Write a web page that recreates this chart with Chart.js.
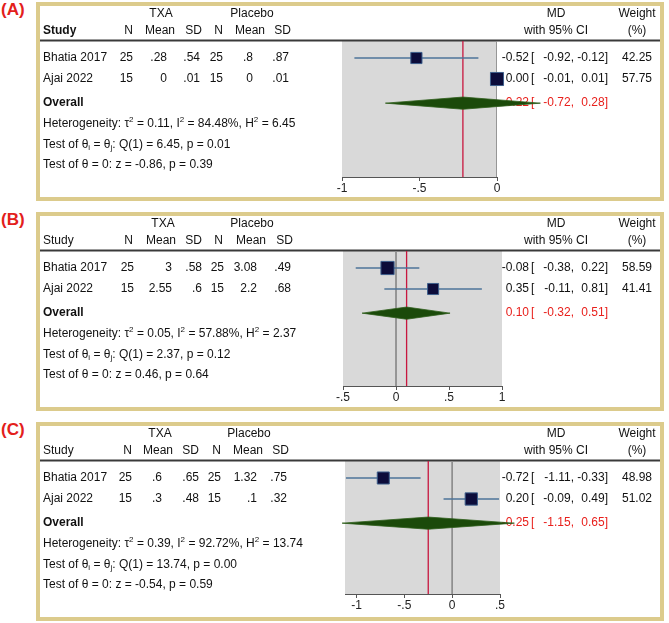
<!DOCTYPE html>
<html>
<head>
<meta charset="utf-8">
<script src="https://cdn.jsdelivr.net/npm/chart.js"></script>
<style>
  body { margin: 0; background: #fff; width: 669px; height: 623px; position: relative; overflow: hidden; }
  .panel { position: absolute; left: 36px; width: 628px; height: 199px; box-sizing: border-box; border: 4px solid #dccb8c; }
  .panel canvas { position: absolute; left: 0; top: 0; }
  .tag { position: absolute; left: 1px; font: bold 17px "Liberation Sans", Arial, sans-serif; color: #e3201b; line-height: 20px; }
</style>
</head>
<body>
<div class="tag" style="top:0px">(A)</div>
<div class="tag" style="top:210px">(B)</div>
<div class="tag" style="top:420px">(C)</div>
<div class="panel" style="top:2px"><canvas id="c0" width="620" height="191"></canvas></div>
<div class="panel" style="top:212px"><canvas id="c1" width="620" height="191"></canvas></div>
<div class="panel" style="top:422px"><canvas id="c2" width="620" height="191"></canvas></div>
<script>
// data, one entry per panel (A, B, C)
const studies = ['Bhatia 2017', 'Ajai 2022'];
const txaN = [[25, 15], [25, 15], [25, 15]];
const txaMean = [[0.28, 0], [3, 2.55], [0.6, 0.3]];
const txaSD = [[0.54, 0.01], [0.58, 0.6], [0.65, 0.48]];
const placeboN = [[25, 15], [25, 15], [25, 15]];
const placeboMean = [[0.8, 0], [3.08, 2.2], [1.32, 0.1]];
const placeboSD = [[0.87, 0.01], [0.49, 0.68], [0.75, 0.32]];
const md = [[-0.52, 0.00], [-0.08, 0.35], [-0.72, 0.20]];
const ciLow = [[-0.92, -0.01], [-0.38, -0.11], [-1.11, -0.09]];
const ciHigh = [[-0.12, 0.01], [0.22, 0.81], [-0.33, 0.49]];
const weights = [[42.25, 57.75], [58.59, 41.41], [48.98, 51.02]];
const overallMd = [-0.22, 0.10, -0.25];
const overallLow = [-0.72, -0.32, -1.15];
const overallHigh = [0.28, 0.51, 0.65];
const tau2 = [0.11, 0.05, 0.39];
const iSq = [84.48, 57.88, 92.72];
const hSq = [6.45, 2.37, 13.74];
const qStat = [6.45, 2.37, 13.74];
const qP = [0.01, 0.12, 0.00];
const zStat = [-0.86, 0.46, -0.54];
const zP = [0.39, 0.64, 0.59];
const axisMin = [-1, -0.5, -1.12];
const axisMax = [0, 1, 0.5];
const tickValues = [[-1, -0.5, 0], [-0.5, 0, 0.5, 1], [-1, -0.5, 0, 0.5]];
const tickLabels = [['-1', '-.5', '0'], ['-.5', '0', '.5', '1'], ['-1', '-.5', '0', '.5']];

// layout (page x coords, canvas starts at x=40)
const OX = 40;
const FONT = '"Liberation Sans", Arial, sans-serif';
const plotLeft = [342, 343, 345], plotRight = [497, 502, 500];
const plotBottom = [171, 170, 168]; // canvas y of axis line
const PLOT_TOP = 35, ROW_PX = 21;
const valRight = [[133, 167, 200, 223, 253, 289], [134, 172, 202, 224, 257, 291], [132, 162, 199, 221, 257, 287]];
const headRight = [[133, 175, 202, 223, 265, 291], [133, 176, 202, 223, 266, 293], [132, 173, 199, 221, 263, 289]];
const groupCenter = [[161, 252], [163, 252], [160, 249]];

const stataNum = v => String(v).replace(/^(-?)0\./, '$1.');

function font(size, bold) { return (bold ? 'bold ' : '') + size + 'px ' + FONT; }

function rich(ctx, x, y, parts) {
  parts.forEach(([t, k]) => {
    ctx.font = font(k ? 8 : 12, false);
    const dy = k === 'sup' ? -4.5 : k === 'sub' ? 3 : 0;
    ctx.fillText(t, x, y + dy);
    x += ctx.measureText(t).width;
  });
}

function ciText(ctx, y, est, lo, hi, color) {
  const L = x => x - OX;
  ctx.fillStyle = color;
  ctx.font = font(12, false);
  ctx.textAlign = 'right';
  ctx.fillText(est.toFixed(2), L(529), y);
  ctx.textAlign = 'left';
  ctx.fillText('[', L(531), y);
  ctx.textAlign = 'right';
  ctx.fillText(lo.toFixed(2) + ',', L(574), y);
  ctx.fillText(hi.toFixed(2) + ']', L(608), y);
}

const forestPlugin = {
  id: 'forest',
  beforeDraw(chart) {
    const {ctx, chartArea: a} = chart;
    ctx.save();
    ctx.fillStyle = '#d9d9d9';
    ctx.fillRect(a.left, a.top, a.right - a.left, a.bottom - a.top);
    ctx.fillStyle = '#3a3a3a';
    ctx.fillRect(0, a.top - 1.5, chart.width, 2);
    ctx.restore();
  },
  beforeDatasetsDraw(chart, args, opts) {
    const p = opts.panel, ctx = chart.ctx, ys = chart.scales.y;
    const L = x => x - OX;
    ctx.save();
    ctx.textBaseline = 'middle';
    ctx.fillStyle = '#111';
    ctx.font = font(12, false);
    ctx.textAlign = 'center';
    ctx.fillText('TXA', L(groupCenter[p][0]), 8);
    ctx.fillText('Placebo', L(groupCenter[p][1]), 8);
    ctx.fillText('MD', L(556), 8);
    ctx.fillText('Weight', L(637), 8);
    ctx.fillText('with 95% CI', L(556), 25);
    ctx.fillText('(%)', L(637), 25);
    ctx.textAlign = 'right';
    ['N', 'Mean', 'SD', 'N', 'Mean', 'SD'].forEach((h, i) => ctx.fillText(h, L(headRight[p][i]), 25));
    ctx.textAlign = 'left';
    ctx.font = font(12, p === 0);
    ctx.fillText('Study', L(43), 25);

    studies.forEach((s, i) => {
      const y = ys.getPixelForValue(i + 1);
      ctx.fillStyle = '#111';
      ctx.font = font(12, false);
      ctx.textAlign = 'left';
      ctx.fillText(s, L(43), y);
      ctx.textAlign = 'right';
      const cells = [txaN[p][i], txaMean[p][i], txaSD[p][i], placeboN[p][i], placeboMean[p][i], placeboSD[p][i]];
      cells.forEach((v, c) => ctx.fillText(stataNum(v), L(valRight[p][c]), y));
      ctx.fillText(weights[p][i].toFixed(2), L(652), y);
      ciText(ctx, y, md[p][i], ciLow[p][i], ciHigh[p][i], '#111');
    });

    const yo = ys.getPixelForValue(studies.length + 1.15);
    ctx.fillStyle = '#111';
    ctx.textAlign = 'left';
    ctx.font = font(12, true);
    ctx.fillText('Overall', L(43), yo);
    rich(ctx, L(43), 118, [['Heterogeneity: \u03c4'], ['2', 'sup'], [' = ' + tau2[p].toFixed(2) + ', I'], ['2', 'sup'],
      [' = ' + iSq[p].toFixed(2) + '%, H'], ['2', 'sup'], [' = ' + hSq[p].toFixed(2)]]);
    rich(ctx, L(43), 139, [['Test of \u03b8'], ['i', 'sub'], [' = \u03b8'], ['j', 'sub'],
      [': Q(1) = ' + qStat[p].toFixed(2) + ', p = ' + qP[p].toFixed(2)]]);
    rich(ctx, L(43), 159, [['Test of \u03b8 = 0: z = ' + zStat[p].toFixed(2) + ', p = ' + zP[p].toFixed(2)]]);
    ciText(ctx, yo, overallMd[p], overallLow[p], overallHigh[p], '#e8201c');
    ctx.restore();
  },
  afterDatasetsDraw(chart, args, opts) {
    // pooled estimate diamond, not clipped to the plot area
    const p = opts.panel, ctx = chart.ctx, xs = chart.scales.x, ys = chart.scales.y;
    const row = studies.length + 1.15, h = 0.29;
    ctx.save();
    ctx.beginPath();
    ctx.moveTo(xs.getPixelForValue(overallLow[p]), ys.getPixelForValue(row));
    ctx.lineTo(xs.getPixelForValue(overallMd[p]), ys.getPixelForValue(row - h));
    ctx.lineTo(xs.getPixelForValue(overallHigh[p]), ys.getPixelForValue(row));
    ctx.lineTo(xs.getPixelForValue(overallMd[p]), ys.getPixelForValue(row + h));
    ctx.closePath();
    ctx.fillStyle = '#1b4a0a';
    ctx.fill();
    ctx.strokeStyle = '#2f5e1c';
    ctx.lineWidth = 0.8;
    ctx.stroke();
    ctx.restore();
  }
};

function makePanel(p) {
  const yMin = 1 - 17 / ROW_PX;
  const yMax = yMin + (plotBottom[p] - PLOT_TOP) / ROW_PX;
  const datasets = [];
  datasets.push({
    data: [{x: 0, y: yMin}, {x: 0, y: yMax}],
    showLine: true, pointRadius: 0, borderColor: '#8c8c8c', borderWidth: 1, order: 6
  });
  datasets.push({
    data: [{x: overallMd[p], y: yMin}, {x: overallMd[p], y: yMax}],
    showLine: true, pointRadius: 0, borderColor: '#c8173f', borderWidth: 1.3, order: 5
  });
  studies.forEach((s, i) => {
    datasets.push({
      data: [{x: ciLow[p][i], y: i + 1}, {x: ciHigh[p][i], y: i + 1}],
      showLine: true, pointRadius: 0, borderColor: '#4d7399', borderWidth: 1.5, order: 3
    });
  });
  datasets.push({
    data: studies.map((s, i) => ({x: md[p][i], y: i + 1})),
    pointStyle: 'rect',
    pointRadius: weights[p].map(w => 1.72 * Math.sqrt(w) / 1.414),
    backgroundColor: '#0c0c3a', borderColor: '#3d5f8c', borderWidth: 1,
    clip: false, order: 1
  });

  return new Chart(document.getElementById('c' + p), {
    type: 'scatter',
    data: { datasets },
    options: {
      responsive: false,
      animation: false,
      events: [],
      layout: { padding: { left: plotLeft[p] - OX, right: 620 - (plotRight[p] - OX), top: PLOT_TOP, bottom: 191 - 20 - plotBottom[p] } },
      plugins: { legend: { display: false }, tooltip: { enabled: false }, forest: { panel: p } },
      scales: {
        x: {
          type: 'linear', min: axisMin[p], max: axisMax[p],
          afterBuildTicks: s => { s.ticks = tickValues[p].map(v => ({ value: v })); },
          afterFit: s => { s.height = 20; },
          ticks: { callback: (v, i) => tickLabels[p][i], autoSkip: false, maxRotation: 0, padding: 0, color: '#222', font: { family: FONT, size: 12 } },
          grid: { drawOnChartArea: false, drawTicks: true, tickLength: 4, color: '#555' },
          border: { display: true, color: '#555', width: 1 }
        },
        y: { type: 'linear', display: false, reverse: true, min: yMin, max: yMax }
      }
    },
    plugins: [forestPlugin]
  });
}

[0, 1, 2].forEach(makePanel);
</script>
</body>
</html>
